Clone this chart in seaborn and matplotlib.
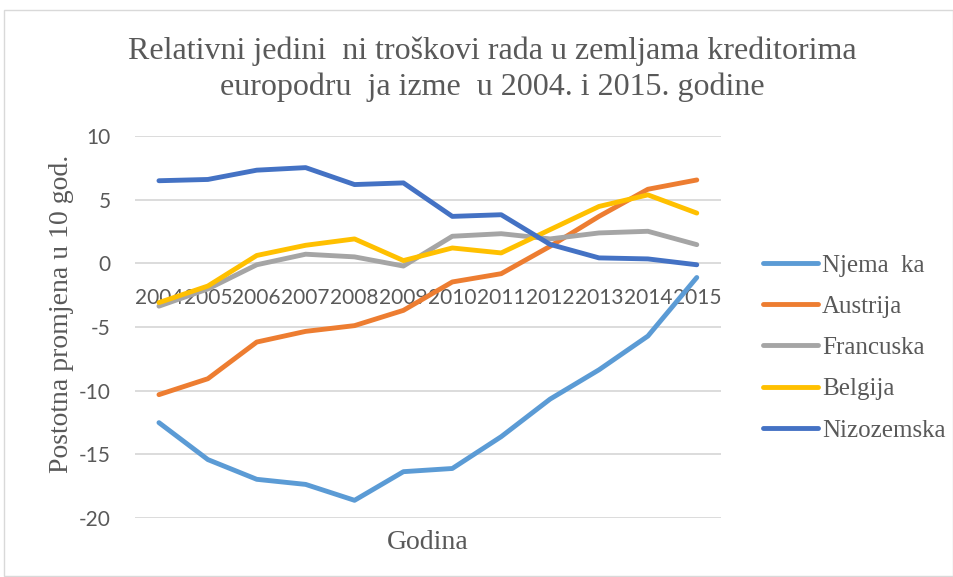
import pandas as pd
import matplotlib.pyplot as plt
import seaborn as sns
from matplotlib.patches import Rectangle

# Data
years = [2004, 2005, 2006, 2007, 2008, 2009, 2010, 2011, 2012, 2013, 2014, 2015]
njemacka = [-12.5, -15.4, -16.95, -17.35, -18.6, -16.35, -16.1, -13.6, -10.65, -8.35, -5.7, -1.1]
austrija = [-10.3, -9.05, -6.17, -5.33, -4.88, -3.68, -1.45, -0.8, 1.35, 3.7, 5.83, 6.56]
francuska = [-3.35, -2.0, -0.1, 0.73, 0.52, -0.2, 2.14, 2.34, 1.93, 2.4, 2.53, 1.48]
belgija = [-3.07, -1.77, 0.63, 1.43, 1.93, 0.23, 1.22, 0.83, 2.66, 4.48, 5.39, 3.96]
nizozemska = [6.5, 6.6, 7.33, 7.53, 6.2, 6.33, 3.7, 3.83, 1.5, 0.44, 0.36, -0.1]

series_names = ['Njema  ka', 'Austrija', 'Francuska', 'Belgija', 'Nizozemska']
series_values = [njemacka, austrija, francuska, belgija, nizozemska]
colors = ['#5B9BD5', '#ED7D31', '#A5A5A5', '#FFC000', '#4472C4']

rows = []
for name, vals in zip(series_names, series_values):
    for i, (yr, v) in enumerate(zip(years, vals)):
        rows.append({'pos': i, 'Godina': str(yr), 'Serija': name, 'Vrijednost': v})
df = pd.DataFrame(rows)

sns.set_style('white')
plt.rcParams['font.family'] = ['Liberation Serif', 'DejaVu Sans']
plt.rcParams['axes.unicode_minus'] = False

fig = plt.figure(figsize=(9.54, 5.77), dpi=100)
ax = fig.add_axes([0.141, 0.102, 0.615, 0.662])

sns.lineplot(data=df, x='pos', y='Vrijednost', hue='Serija', hue_order=series_names,
             palette=colors, linewidth=3.5, ax=ax, solid_capstyle='round')

ax.set_xlim(-0.5, len(years) - 0.5)
ax.set_ylim(-20, 10)
ax.set_yticks(range(-20, 11, 5))
ax.set_xticks(range(len(years)))
ax.set_xticklabels([str(y) for y in years])
ax.yaxis.grid(True, color='#D9D9D9', linewidth=1.3)
ax.set_axisbelow(True)
for s in ['left', 'right', 'top']:
    ax.spines[s].set_visible(False)
ax.spines['bottom'].set_position(('data', 0))
ax.spines['bottom'].set_visible(False)

ax.tick_params(axis='both', length=0, labelsize=15, labelcolor='#595959')
for lbl in ax.get_xticklabels() + ax.get_yticklabels():
    lbl.set_family('Lato')
ax.tick_params(axis='x', pad=18)
ax.tick_params(axis='y', pad=17)

ax.set_xlabel('Godina', fontsize=20, color='#595959', va='center')
ax.xaxis.set_label_coords(0.5, -0.065)
ax.set_ylabel('Postotna promjena u 10 god.', fontsize=20, color='#595959', va='center')
ax.yaxis.set_label_coords(-0.124, 0.534)

fig.text(0.516, 0.880, 'Relativni jedini  ni troškovi rada u zemljama kreditorima\neuropodru  ja izme  u 2004. i 2015. godine',
         fontsize=23, color='#595959', ha='center', va='center', linespacing=1.3)

leg = ax.legend(loc='center left', bbox_to_anchor=(1.054, 0.446), frameon=False, borderaxespad=0,
                fontsize=18, handlelength=2.2, labelspacing=0.75, handletextpad=0.16)
for t in leg.get_texts():
    t.set_color('#595959')
for h in leg.get_lines():
    h.set_linewidth(3.5)
    h.set_solid_capstyle('round')

fig.patches.append(Rectangle((4 / 954, 1 / 577), 949 / 954, 566 / 577, transform=fig.transFigure,
                             fill=False, edgecolor='#D9D9D9', linewidth=1))

plt.savefig('out.png', dpi=100)
